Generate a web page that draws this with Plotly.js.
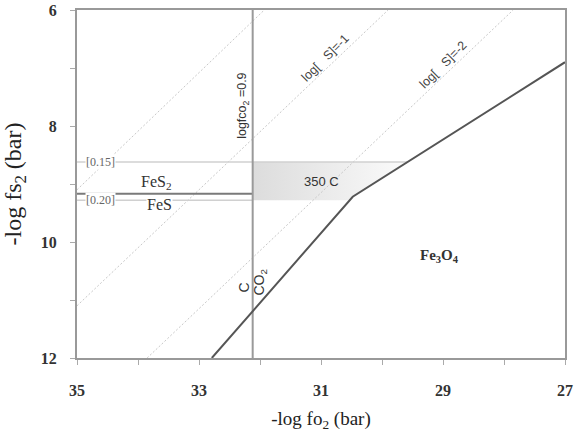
<!DOCTYPE html>
<html>
<head>
<meta charset="utf-8">
<script src="https://cdn.plot.ly/plotly-3.0.1.min.js"></script>
<style>html,body{margin:0;padding:0;background:#fff}#chart{width:583px;height:432px}</style>
</head>
<body>
<div id="chart"></div>
<script>
// Axis ticks
const xTickVals = [35, 34, 33, 32, 31, 30, 29, 28, 27];
const xTickText = ["35", "", "33", "", "31", "", "29", "", "27"];
const yTickVals = [6, 7, 8, 9, 10, 11, 12];
const yTickText = ["6", "", "8", "", "10", "", "12"];

// Sulfur activity isopleths (dotted), endpoints
const sulfurLineX = [[35, 31.93], [35, 29.9], [33.85, 27.85]];
const sulfurLineY = [[9.1, 6], [11.1, 6], [12, 6]];

// Magnetite boundary (thick line)
const magnetiteX = [32.79, 30.48, 27];
const magnetiteY = [12, 9.22, 6.9];

// logfCO2 = 0.9 (C / CO2 boundary)
const co2X = [32.12, 32.12];
const co2Y = [6, 12];

// Pyrite / pyrrhotite boundary
const pyX = [35, 32.12];
const pyY = [9.17, 9.17];

// Composition lines [0.15] and [0.20]
const comp15X = [35, 29.58];
const comp15Y = [8.62, 8.62];
const comp20X = [35, 32.12];
const comp20Y = [9.28, 9.28];

// 350 C field polygon
const fieldX = [32.12, 29.58, 30.48, 30.53, 32.12, 32.12];
const fieldY = [8.62, 8.62, 9.22, 9.28, 9.28, 8.62];

const traces = [];
traces.push({
  x: fieldX, y: fieldY, mode: 'lines', fill: 'toself',
  fillgradient: {type: 'horizontal', colorscale: [[0, '#dcdcdc'], [1, '#fbfbfb']]},
  line: {width: 0, color: 'rgba(0,0,0,0)'}, hoverinfo: 'skip'
});
for (let i = 0; i < sulfurLineX.length; i++) {
  traces.push({x: sulfurLineX[i], y: sulfurLineY[i], mode: 'lines',
    line: {color: '#c8c8c8', width: 1, dash: '2px,2px'}, hoverinfo: 'skip'});
}
traces.push({x: comp15X, y: comp15Y, mode: 'lines', line: {color: '#d0d0d0', width: 1.5}});
traces.push({x: comp20X, y: comp20Y, mode: 'lines', line: {color: '#d0d0d0', width: 1.5}});
traces.push({x: pyX, y: pyY, mode: 'lines', line: {color: '#7a7a7a', width: 2}});
traces.push({x: co2X, y: co2Y, mode: 'lines', line: {color: '#9a9a9a', width: 2}});
traces.push({x: magnetiteX, y: magnetiteY, mode: 'lines', line: {color: '#555', width: 2}});

const serif = 'Liberation Serif';
const sans = 'Liberation Sans';

const annotations = [
  {x: 34.62, y: 8.62, text: '[0.15]', font: {family: serif, size: 12, color: '#666'}, bgcolor: '#fff', borderpad: 0},
  {x: 34.62, y: 9.28, text: '[0.20]', font: {family: serif, size: 12, color: '#666'}, bgcolor: '#fff', borderpad: 0},
  {x: 33.7, y: 8.97, text: 'FeS<sub>2</sub>', font: {family: serif, size: 16, color: '#333'}},
  {x: 33.64, y: 9.35, text: 'FeS', font: {family: serif, size: 16, color: '#333'}, bgcolor: '#fff', borderpad: 0},
  {x: 31.0, y: 8.95, text: '350 C', font: {family: sans, size: 13, color: '#333'}},
  {x: 29.05, y: 10.24, text: '<b>Fe<sub>3</sub>O<sub>4</sub></b>', font: {family: serif, size: 15, color: '#333'}},
  {x: 32.26, y: 10.78, text: 'C', textangle: -90, font: {family: sans, size: 14, color: '#333'}},
  {x: 32.0, y: 10.7, text: 'CO<sub>2</sub>', textangle: -90, font: {family: sans, size: 14, color: '#333'}},
  {x: 32.27, y: 7.66, text: 'logfco<sub>2</sub> =0.9', textangle: -90, font: {family: sans, size: 12.5, color: '#333'}},
  {x: 30.93, y: 6.83, text: 'log[   S]=-1', textangle: -45, font: {family: sans, size: 12.5, color: '#444'}},
  {x: 29.0, y: 6.95, text: 'log[   S]=-2', textangle: -45, font: {family: sans, size: 12.5, color: '#444'}}
].map(a => Object.assign({xref: 'x', yref: 'y', showarrow: false}, a));

const layout = {
  width: 583, height: 432,
  margin: {l: 77, r: 18, t: 10, b: 74},
  paper_bgcolor: '#fff', plot_bgcolor: '#fff',
  showlegend: false,
  xaxis: {
    range: [35, 27], tickvals: xTickVals, ticktext: xTickText,
    showgrid: false, zeroline: false, showline: true, mirror: true,
    linecolor: '#999', linewidth: 2, ticks: 'outside', ticklen: 5, tickcolor: '#aaa', tickwidth: 1,
    ticklabelstandoff: 12,
    tickfont: {family: serif, size: 16, color: '#333', weight: 'bold'},
    title: {text: '-log fo<sub>2</sub> (bar)', font: {family: serif, size: 19, color: '#222'}, standoff: 24}
  },
  yaxis: {
    range: [12, 6], tickvals: yTickVals, ticktext: yTickText,
    showgrid: false, zeroline: false, showline: true, mirror: true,
    linecolor: '#999', linewidth: 2, ticks: 'outside', ticklen: 5, tickcolor: '#aaa', tickwidth: 1,
    ticklabelstandoff: 10,
    tickfont: {family: serif, size: 16, color: '#333', weight: 'bold'},
    title: {text: '-log fs<sub>2</sub> (bar)', font: {family: serif, size: 24, color: '#222'}, standoff: 12}
  },
  annotations: annotations
};

Plotly.newPlot('chart', traces, layout, {displayModeBar: false, staticPlot: true});
</script>
</body>
</html>
